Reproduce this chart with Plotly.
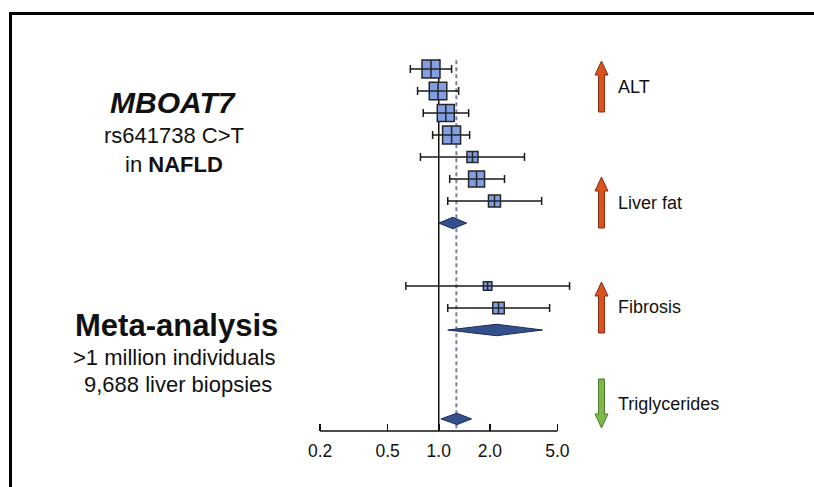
import numpy as np
import plotly.graph_objects as go

# ---------------- data ----------------
rows_est = [1, 2, 3, 4, 5, 6, 7, 10.86, 11.86]
or_est = [0.90, 0.99, 1.10, 1.19, 1.58, 1.67, 2.13, 1.94, 2.25]
ci_lo = [0.68, 0.75, 0.81, 0.92, 0.78, 1.16, 1.13, 0.64, 1.13]
ci_hi = [1.19, 1.31, 1.50, 1.52, 3.20, 2.44, 4.04, 5.90, 4.50]
weights = [18, 17.5, 17, 18, 11, 16, 12, 8.5, 11.5]

rows_pooled = [8, 12.86, 16.9]
pooled_est = [1.21, 2.19, 1.28]
pooled_lo = [1.00, 1.13, 1.03]
pooled_hi = [1.46, 4.09, 1.56]

tick_vals = [0.2, 0.5, 1.0, 2.0, 5.0]
tick_labels = ["0.2", "0.5", "1.0", "2.0", "5.0"]
overall_ref = 1.27

outcomes = ["ALT", "Liver fat", "Fibrosis", "Triglycerides"]
outcome_dir = ["up", "up", "up", "down"]

# ---------------- layout helpers ----------------
W, H = 814, 487
FONT = "Liberation Sans, Arial, sans-serif"


def px(x):
    return x / W


def py(y):
    return 1 - y / H


fig = go.Figure()

le = np.log10(or_est)
fig.add_trace(go.Scatter(
    x=le, y=rows_est, mode="markers",
    marker=dict(symbol="square-cross", size=weights, color="#839fe3", opacity=1,
                line=dict(color="#262626", width=1.5)),
    error_x=dict(type="data", symmetric=False,
                 array=list(np.log10(ci_hi) - le),
                 arrayminus=list(le - np.log10(ci_lo)),
                 color="#1a1a1a", thickness=1.5, width=4),
    hoverinfo="skip", showlegend=False, cliponaxis=False,
))

half_h = 0.26
for r, c, lo, hi in zip(rows_pooled, pooled_est, pooled_lo, pooled_hi):
    xs = [np.log10(lo), np.log10(c), np.log10(hi), np.log10(c), np.log10(lo)]
    ys = [r, r - half_h, r, r + half_h, r]
    fig.add_trace(go.Scatter(
        x=xs, y=ys, mode="lines", fill="toself", fillcolor="#34508c",
        line=dict(color="#1c2b52", width=1), hoverinfo="skip", showlegend=False,
    ))

# reference lines
fig.add_shape(type="line", xref="x", yref="y", x0=0, x1=0, y0=0.55, y1=17.45,
              line=dict(color="#111111", width=1.5), layer="below")
fig.add_shape(type="line", xref="x", yref="y", x0=np.log10(overall_ref), x1=np.log10(overall_ref),
              y0=0.6, y1=17.45, line=dict(color="#7482a8", width=2, dash="4px,3px"), layer="below")
# axis line only over the tick span
fig.add_shape(type="line", xref="x", yref="y domain", x0=np.log10(tick_vals[0]), x1=np.log10(tick_vals[-1]),
              y0=0, y1=0, line=dict(color="#111111", width=1.5))

# frame (top and left edges)
fig.add_shape(type="line", xref="paper", yref="paper", x0=px(9), x1=px(820), y0=py(13.5), y1=py(13.5),
              line=dict(color="black", width=3))
fig.add_shape(type="line", xref="paper", yref="paper", x0=px(10.5), x1=px(10.5), y0=py(12), y1=py(495),
              line=dict(color="black", width=3))


# arrows
def arrow_path(cx, ytop, ybot, direction, head_h=14, head_w=13, shaft_w=6):
    sw, hw = shaft_w / 2, head_w / 2
    if direction == "up":
        pts = [(cx - sw, ybot), (cx - sw, ytop + head_h), (cx - hw, ytop + head_h), (cx, ytop),
               (cx + hw, ytop + head_h), (cx + sw, ytop + head_h), (cx + sw, ybot)]
    else:
        pts = [(cx - sw, ytop), (cx - sw, ybot - head_h), (cx - hw, ybot - head_h), (cx, ybot),
               (cx + hw, ybot - head_h), (cx + sw, ybot - head_h), (cx + sw, ytop)]
    return "M " + " L ".join(f"{px(x):.5f},{py(y):.5f}" for x, y in pts) + " Z"


arrow_spans = [(61, 112), (177, 228), (282, 333), (379, 428)]
label_y = [87, 203, 307, 404]
for name, d, (yt, yb), ly in zip(outcomes, outcome_dir, arrow_spans, label_y):
    fill = "#d9531e" if d == "up" else "#7cb84a"
    edge = "#8a2c12" if d == "up" else "#4d7a2c"
    fig.add_shape(type="path", xref="paper", yref="paper", path=arrow_path(601.5, yt, yb, d),
                  fillcolor=fill, line=dict(color=edge, width=1))
    fig.add_annotation(x=px(616), y=py(ly), xref="paper", yref="paper", text=name,
                       showarrow=False, xanchor="left", yanchor="middle",
                       font=dict(family=FONT, size=18, color="#111111"))

# left-hand texts
left_texts = [
    ("<b><i>MBOAT7</i></b>", 173, 103, 30),
    ("rs641738 C&gt;T", 174, 136, 22),
    ("in <b>NAFLD</b>", 174, 164, 22),
    ("<b>Meta-analysis</b>", 176, 325, 31),
    ("&gt;1 million individuals", 174, 357.5, 22),
    ("9,688 liver biopsies", 178, 384.5, 22),
]
for txt, x, y, s in left_texts:
    fig.add_annotation(x=px(x), y=py(y), xref="paper", yref="paper", text=txt,
                       showarrow=False, xanchor="center", yanchor="middle",
                       font=dict(family=FONT, size=s, color="#111111"))

fig.update_layout(
    width=W, height=H, margin=dict(l=0, r=0, t=0, b=0),
    paper_bgcolor="white", plot_bgcolor="rgba(0,0,0,0)",
    showlegend=False,
    xaxis=dict(domain=[px(303), px(583)], range=[-0.8, 0.85],
               tickvals=list(np.log10(tick_vals)), ticktext=tick_labels,
               ticks="inside", ticklen=7, tickwidth=1.5, tickcolor="#111111",
               ticklabelstandoff=7,
               showline=False, showgrid=False, zeroline=False,
               tickfont=dict(family=FONT, size=17.5, color="#111111")),
    yaxis=dict(domain=[py(431), py(50)], range=[17.45, 0.136],
               visible=False, showgrid=False, zeroline=False),
)

fig.write_html(
    "out.html",
    config={"displayModeBar": False, "staticPlot": True},
    post_script="document.body.style.margin='0';document.body.style.overflow='hidden';"
                "document.documentElement.style.overflow='hidden';",
)
